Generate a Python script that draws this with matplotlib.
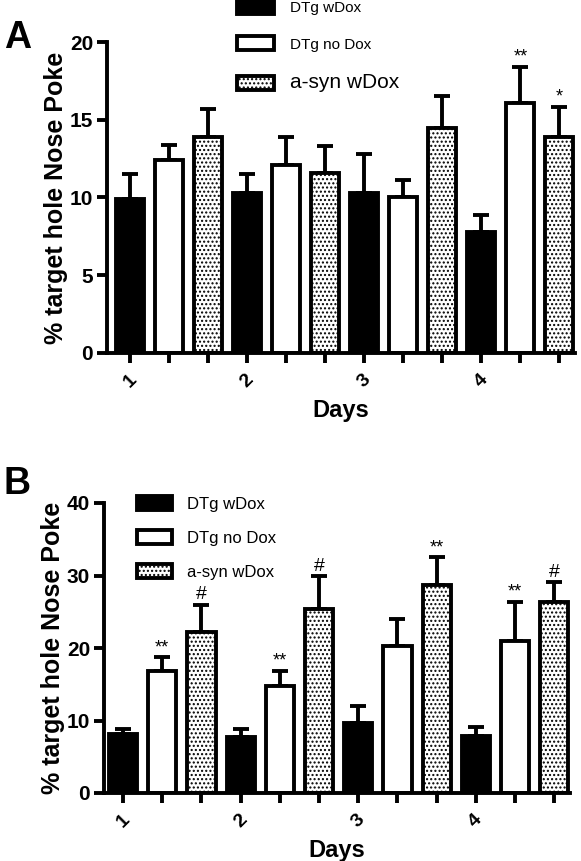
import matplotlib
matplotlib.use("Agg")
import matplotlib.pyplot as plt
import numpy as np

plt.rcParams['font.family'] = ['Liberation Sans', 'DejaVu Sans']
plt.rcParams['hatch.linewidth'] = 1.0

groups = ["DTg wDox", "DTg no Dox", "a-syn wDox"]
days = ["1", "2", "3", "4"]

# panel A: mean and top of error bar, per day
a_black = [9.9, 10.3, 10.3, 7.8]
a_black_err = [11.5, 11.5, 12.8, 8.9]
a_white = [12.4, 12.1, 10.0, 16.1]
a_white_err = [13.4, 13.9, 11.1, 18.4]
a_dot = [13.9, 11.6, 14.5, 13.9]
a_dot_err = [15.7, 13.3, 16.5, 15.8]
a_marks = {(3, 1): "**", (3, 2): "*"}

# panel B
b_black = [8.1, 7.7, 9.6, 7.9]
b_black_err = [8.8, 8.8, 12.0, 9.1]
b_white = [16.8, 14.8, 20.3, 20.9]
b_white_err = [18.7, 16.8, 24.0, 26.3]
b_dot = [22.2, 25.4, 28.7, 26.3]
b_dot_err = [26.0, 29.9, 32.5, 29.1]
b_marks = {(0, 1): "**", (0, 2): "#", (1, 1): "**", (1, 2): "#",
           (2, 2): "**", (3, 1): "**", (3, 2): "#"}

styles = [dict(facecolor="black", hatch=None),
          dict(facecolor="white", hatch=None),
          dict(facecolor="white", hatch="....")]


def panel(ax, means, tops, marks, ymax, ystep, xlim):
    handles = []
    for g in range(3):
        xs = np.arange(4) * 3 + g
        m = np.array(means[g])
        err = np.array(tops[g]) - m
        ax.errorbar(xs, m, yerr=[np.zeros(4), err], fmt="none", ecolor="black",
                    elinewidth=2.8, capsize=6, capthick=2.8, zorder=1)
        b = ax.bar(xs, m, width=0.72, edgecolor="black", linewidth=2.8,
                   zorder=2, label=groups[g], **styles[g])
        handles.append(b)
        for d in range(4):
            if (d, g) in marks:
                s = marks[(d, g)]
                ax.annotate(s, (xs[d], tops[g][d]), xytext=(0, 1),
                            textcoords="offset points", ha="center", va="bottom",
                            fontsize=14 if s == "#" else 13)
    ax.set_xlim(*xlim)
    ax.set_ylim(0, ymax)
    ax.set_yticks(np.arange(0, ymax + 1, ystep))
    ax.set_xticks(np.arange(12))
    ax.set_xticklabels([days[i // 3] if i % 3 == 0 else "" for i in range(12)],
                       rotation=45, ha="center", fontsize=14, fontweight="bold")
    for lab in ax.get_yticklabels():
        lab.set_fontweight("bold")
        lab.set_fontsize(15)
    ax.spines["top"].set_visible(False)
    ax.spines["right"].set_visible(False)
    ax.spines["left"].set_linewidth(2.8)
    ax.spines["bottom"].set_linewidth(2.8)
    ax.tick_params(width=2.8, length=7, pad=3)
    ax.tick_params(axis="x", pad=6)
    ax.set_ylabel("% target hole Nose Poke", fontsize=18, fontweight="bold", labelpad=1)
    ax.set_xlabel("Days", fontsize=17, fontweight="bold", labelpad=6)
    return handles


fig = plt.figure(figsize=(5.81, 8.61), dpi=100)

axA = fig.add_axes([107 / 581, 1 - 353 / 861, (575 - 107) / 581, (353 - 42) / 861])
hA = panel(axA, [a_black, a_white, a_dot], [a_black_err, a_white_err, a_dot_err],
           a_marks, 20, 5, (-0.59, 11.4))
legA = axA.legend(handles=hA, loc="upper left", bbox_to_anchor=(237 / 581, 1.0),
                  bbox_transform=fig.transFigure, frameon=False, fontsize=11,
                  handlelength=2.45, handleheight=1.0, labelspacing=1.4,
                  handletextpad=1.0, borderaxespad=0, borderpad=0)
legA.get_texts()[2].set_fontsize(15)

axB = fig.add_axes([104 / 581, 1 - 793 / 861, (570 - 104) / 581, (793 - 503) / 861])
hB = panel(axB, [b_black, b_white, b_dot], [b_black_err, b_white_err, b_dot_err],
           b_marks, 40, 10, (-0.485, 11.4))
axB.legend(handles=hB, loc="upper left", bbox_to_anchor=(137 / 581, 1 - 496 / 861),
           bbox_transform=fig.transFigure, frameon=False, fontsize=12,
           handlelength=2.1, handleheight=0.9, labelspacing=1.1,
           handletextpad=0.9, borderaxespad=0, borderpad=0)

fig.text(4 / 581, 1 - 20 / 861, "A", fontsize=27, fontweight="bold", va="top")
fig.text(4 / 581, 1 - 466 / 861, "B", fontsize=27, fontweight="bold", va="top")

fig.savefig("out.png", dpi=100)
